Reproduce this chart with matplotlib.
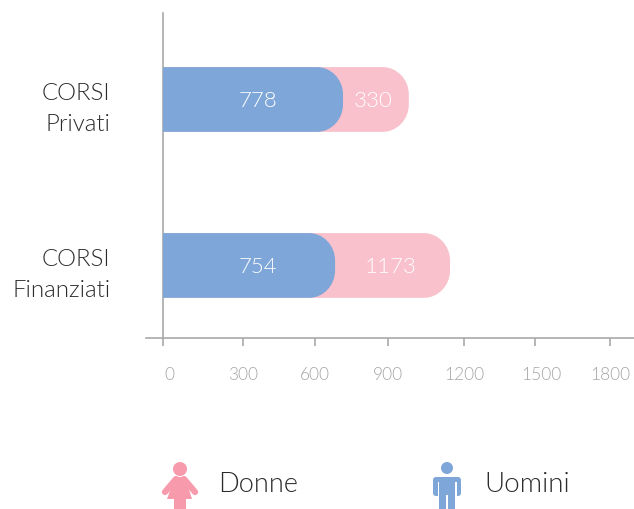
# ================================================================
# 0. Section: IMPORTS
# ================================================================
from matplotlib import pyplot as plt
from matplotlib.patches import Circle, FancyBboxPatch, PathPatch, Polygon, Rectangle
from matplotlib.path import Path
from matplotlib.transforms import ScaledTranslation

# ================================================================
# 1. Section: INPUTS
# ================================================================
CATEGORIES = ["CORSI\nPrivati", "CORSI\nFinanziati"]
UOMINI_LABELS = ["778", "754"]
DONNE_LABELS = ["330", "1173"]
# the drawn bars do not follow the printed numbers, lengths
UOMINI_LENGTHS = [725, 693]
DONNE_LENGTHS = [990, 1156]
DONNE_TEXT_X = [845, 918]
UOMINI_TEXT_X = [383, 383]
X_TICKS = [0, 322, 612, 906, 1212, 1498, 1800]
X_TICK_LABELS = ["0", "300", "600", "900", "1200", "1500", "1800"]

BLUE = "#7ea6d8"
PINK = "#f9c1cc"
ICON_PINK = "#f79aac"
AXIS_GREY = "#a9a9a9"
TICK_TEXT = "#a6a6a6"
DARK_TEXT = "#2b2b2b"
BAR_HEIGHT = 0.39
RADIUS_X = 105
RADIUS_Y = 0.165

plt.rcParams["font.family"] = ["Lato", "DejaVu Sans"]
plt.rcParams["font.weight"] = 300


# ================================================================
# 2. Section: FUNCTIONS
# ================================================================
def rounded_bar(ax, y, length, color, zorder):
    top, bottom = y - BAR_HEIGHT / 2, y + BAR_HEIGHT / 2
    k = 0.55
    verts = [
        (0, top),
        (length - RADIUS_X, top),
        (length - RADIUS_X * (1 - k), top),
        (length, top + RADIUS_Y * (1 - k)),
        (length, top + RADIUS_Y),
        (length, bottom - RADIUS_Y),
        (length, bottom - RADIUS_Y * (1 - k)),
        (length - RADIUS_X * (1 - k), bottom),
        (length - RADIUS_X, bottom),
        (0, bottom),
        (0, top),
    ]
    codes = [Path.MOVETO, Path.LINETO, Path.CURVE4, Path.CURVE4, Path.CURVE4,
             Path.LINETO, Path.CURVE4, Path.CURVE4, Path.CURVE4,
             Path.LINETO, Path.CLOSEPOLY]
    ax.add_patch(PathPatch(Path(verts, codes), facecolor=color, edgecolor="none", zorder=zorder))


def draw_woman(ax):
    ax.add_patch(Circle((180, 469), 7, color=ICON_PINK, lw=0))
    ax.add_patch(Polygon([(175, 477), (185, 477), (192, 499), (186, 499), (186, 509),
                          (174, 509), (174, 499), (167, 499)],
                         closed=True, color=ICON_PINK, lw=0))
    ax.plot([176, 165], [479, 492], color=ICON_PINK, lw=4.5, solid_capstyle="round")
    ax.plot([184, 195], [479, 492], color=ICON_PINK, lw=4.5, solid_capstyle="round")


def draw_man(ax):
    ax.add_patch(Circle((447, 468), 6, color=BLUE, lw=0))
    ax.add_patch(FancyBboxPatch((435, 479), 24, 15, boxstyle="round,pad=2,rounding_size=3",
                                color=BLUE, lw=0))
    ax.add_patch(Rectangle((439, 477), 16, 32, color=BLUE, lw=0))
    ax.add_patch(Rectangle((437.5, 482), 1.5, 15, color="white", lw=0))
    ax.add_patch(Rectangle((455, 482), 1.5, 15, color="white", lw=0))
    ax.add_patch(Rectangle((446.4, 495), 1.2, 14, color="white", lw=0))


# ================================================================
# 3. Section: MAIN
# ================================================================
if __name__ == '__main__':
    fig = plt.figure(figsize=(6.34, 5.09), dpi=100)
    ax = fig.add_axes([146 / 634, 1 - 338 / 509, (634 - 146) / 634, (338 - 13) / 509])
    text_down = ax.transData + ScaledTranslation(0, -1.5 / 100, fig.dpi_scale_trans)

    for i in range(len(CATEGORIES)):
        rounded_bar(ax, i, DONNE_LENGTHS[i], PINK, 2)
        rounded_bar(ax, i, UOMINI_LENGTHS[i], BLUE, 3)
        ax.text(UOMINI_TEXT_X[i], i, UOMINI_LABELS[i], color="white", fontsize=16,
                ha="center", va="center", zorder=4, transform=text_down)
        ax.text(DONNE_TEXT_X[i], i, DONNE_LABELS[i], color="white", fontsize=16,
                ha="center", va="center", zorder=4, transform=text_down)

    ax.set_xlim(-68.5, 1897)
    ax.set_ylim(1.437, -0.521)

    for side in ["top", "right"]:
        ax.spines[side].set_visible(False)
    ax.spines["left"].set_position(("data", 0))
    ax.spines["left"].set_color(AXIS_GREY)
    ax.spines["bottom"].set_color(AXIS_GREY)
    ax.spines["left"].set_linewidth(1.2)
    ax.spines["bottom"].set_linewidth(1.2)

    ax.set_xticks(X_TICKS)
    ax.set_xticklabels(X_TICK_LABELS)
    ax.tick_params(axis="x", length=6, width=1.2, color=AXIS_GREY, labelcolor=TICK_TEXT,
                   labelsize=12.5, pad=15)
    # the 0 and 1500 labels sit a bit right of their ticks
    offset = ScaledTranslation(6 / 100, 0, fig.dpi_scale_trans)
    for label in [ax.get_xticklabels()[0], ax.get_xticklabels()[5]]:
        label.set_transform(label.get_transform() + offset)

    ax.set_yticks(range(len(CATEGORIES)))
    ax.set_yticklabels(CATEGORIES, linespacing=1.6)
    ax.tick_params(axis="y", length=0, labelcolor=DARK_TEXT, labelsize=17.3, pad=38)
    label_down = ScaledTranslation(0, -2.5 / 100, fig.dpi_scale_trans)
    for label in ax.get_yticklabels():
        label.set_transform(label.get_transform() + label_down)

    # overlay in pixel coordinates for the hand drawn legend
    overlay = fig.add_axes([0, 0, 1, 1], facecolor="none")
    overlay.set_xlim(0, 634)
    overlay.set_ylim(509, 0)
    overlay.axis("off")
    draw_woman(overlay)
    draw_man(overlay)
    overlay.text(218, 484, "Donne", fontsize=19.5, color=DARK_TEXT, va="center")
    overlay.text(484, 484, "Uomini", fontsize=20, color=DARK_TEXT, va="center")

    fig.savefig("out.png", dpi=100)
